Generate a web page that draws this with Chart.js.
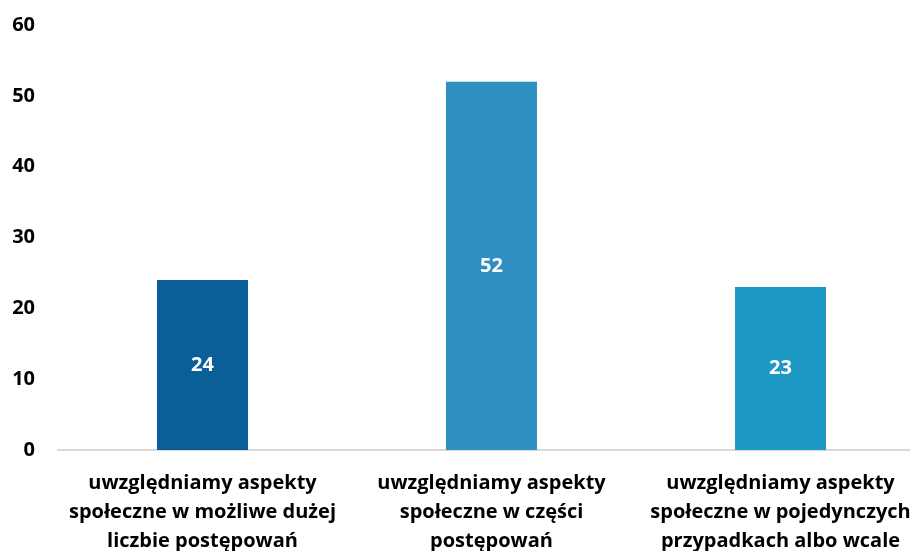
<!DOCTYPE html>
<html>
<head>
<meta charset="utf-8">
<script src="https://cdn.jsdelivr.net/npm/chart.js@4/dist/chart.umd.min.js"></script>
<style>
  html, body { margin: 0; padding: 0; background: #fff; overflow: hidden; }
  #wrap { width: 910px; height: 551px; overflow: hidden; }
</style>
</head>
<body>
<div id="wrap"><canvas id="barChart" width="925" height="565"></canvas></div>
<script>
var categories = [
  ["uwzględniamy aspekty", "społeczne w możliwe dużej", "liczbie postępowań"],
  ["uwzględniamy aspekty", "społeczne w części", "postępowań"],
  ["uwzględniamy aspekty", "społeczne w pojedynczych", "przypadkach albo wcale"]
];
var values = [24, 52, 23];
var barColors = ["#0B5F98", "#2E8FC0", "#1B98C4"];
var yTicks = [0, 10, 20, 30, 40, 50, 60];

var fontFamily = "'Open Sans', sans-serif";

// draws the value in the middle of each bar
var valueLabels = {
  id: "valueLabels",
  afterDatasetsDraw: function(chart) {
    var ctx = chart.ctx;
    var meta = chart.getDatasetMeta(0);
    ctx.save();
    ctx.fillStyle = "#ffffff";
    ctx.font = "bold 20px " + fontFamily;
    ctx.textAlign = "center";
    ctx.textBaseline = "middle";
    meta.data.forEach(function(bar, i) {
      ctx.fillText(String(values[i]), bar.x, (bar.y + bar.base) / 2);
    });
    ctx.restore();
  }
};

function renderChart() {
  var ctx = document.getElementById("barChart").getContext("2d");
  new Chart(ctx, {
    type: "bar",
    data: {
      labels: categories,
      datasets: [{
        data: values,
        backgroundColor: barColors,
        borderWidth: 0,
        categoryPercentage: 1,
        barPercentage: 0.315
      }]
    },
    plugins: [valueLabels],
    options: {
      responsive: false,
      animation: false,
      layout: { padding: { top: 25, right: 0, bottom: 0, left: 0 } },
      plugins: {
        legend: { display: false },
        tooltip: { enabled: false }
      },
      scales: {
        y: {
          min: yTicks[0],
          max: yTicks[yTicks.length - 1],
          afterBuildTicks: function(scale) {
            scale.ticks = yTicks.map(function(v) { return { value: v }; });
          },
          afterFit: function(scale) {
            scale.width = 58;
            scale.paddingTop = 0;
            scale.paddingBottom = 0;
          },
          ticks: {
            padding: 23,
            color: "#000000",
            font: { family: fontFamily, size: 20, weight: "bold" }
          },
          grid: { display: false, drawTicks: false },
          border: { display: false }
        },
        x: {
          afterFit: function(scale) {
            scale.height = 115;
            scale.paddingLeft = 0;
            scale.paddingRight = 0;
          },
          ticks: {
            padding: 19,
            color: "#000000",
            maxRotation: 0,
            autoSkip: false,
            font: { family: fontFamily, size: 20, weight: "bold", lineHeight: 1.45 }
          },
          grid: { display: false, drawTicks: false },
          border: { display: true, color: "#d9d9d9", width: 2 }
        }
      }
    }
  });
}

document.addEventListener("DOMContentLoaded", renderChart);
</script>
</body>
</html>
